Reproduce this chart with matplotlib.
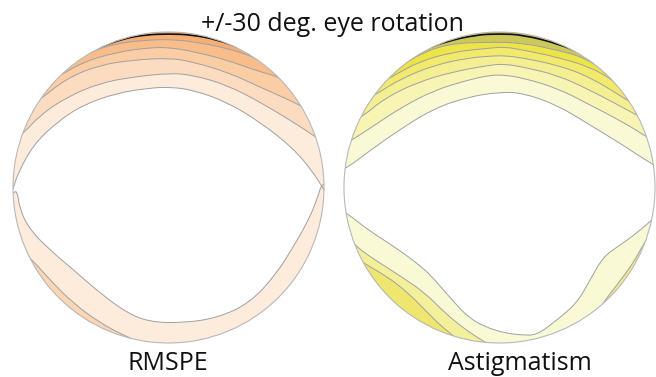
import numpy as np
import matplotlib.pyplot as plt
from matplotlib.patches import Circle, PathPatch
from matplotlib.path import Path

# Lens maps, coordinates normalised to the lens radius (u across, v up)

# RMSPE - upper contours, lightest to darkest
rms_a_u = [-1.05, -1.0, -0.974, -0.871, -0.717, -0.550, -0.331, -0.119, 0.010, 0.158, 0.376, 0.588, 0.801, 0.929, 1.0, 1.05]
rms_a_v = [-0.10, -0.016, 0.080, 0.273, 0.421, 0.531, 0.608, 0.640, 0.646, 0.627, 0.550, 0.421, 0.254, 0.100, -0.016, -0.10]
rms_b_u = [-1.05, -0.942, -0.826, -0.653, -0.441, -0.228, 0.010, 0.158, 0.376, 0.588, 0.801, 0.929, 1.05]
rms_b_v = [0.26, 0.338, 0.466, 0.582, 0.672, 0.711, 0.736, 0.723, 0.659, 0.550, 0.421, 0.338, 0.25]
rms_c_u = [-1.05, -0.846, -0.653, -0.441, -0.228, 0.010, 0.158, 0.376, 0.588, 0.846, 1.05]
rms_c_v = [0.42, 0.550, 0.704, 0.788, 0.820, 0.833, 0.807, 0.743, 0.646, 0.531, 0.42]
rms_d_u = [-1.05, -0.711, -0.550, -0.331, -0.119, 0.010, 0.158, 0.376, 0.588, 0.698, 1.05]
rms_d_v = [0.55, 0.711, 0.807, 0.871, 0.900, 0.900, 0.875, 0.820, 0.743, 0.717, 0.55]
rms_e_u = [-0.8, -0.524, -0.331, -0.119, 0.010, 0.158, 0.376, 0.569, 0.8]
rms_e_v = [0.70, 0.865, 0.929, 0.949, 0.952, 0.938, 0.897, 0.833, 0.70]
rms_f_u = [-0.45, -0.29, -0.15, 0.0, 0.15, 0.31, 0.45]
rms_f_v = [0.90, 0.957, 0.982, 0.988, 0.982, 0.951, 0.90]

# RMSPE - lower contours
rms_g_u = [-1.05, -1.0, -0.974, -0.955, -0.891, -0.762, -0.588, -0.441, -0.267, -0.119, 0.093, 0.312, 0.524, 0.698, 0.801, 0.891, 0.955, 0.987, 1.05]
rms_g_v = [-0.05, -0.04, -0.016, -0.145, -0.273, -0.402, -0.550, -0.678, -0.807, -0.865, -0.871, -0.839, -0.743, -0.550, -0.383, -0.228, -0.080, 0.035, 0.0]
rms_h_u = [-1.05, -0.904, -0.762, -0.614, -0.441, -0.267, -0.164, 0.0]
rms_h_v = [-0.35, -0.434, -0.595, -0.743, -0.871, -0.961, -1.0, -1.1]

# Astigmatism - upper contours
ast_a_u = [-1.05, -0.981, -0.846, -0.627, -0.415, -0.203, 0.0, 0.151, 0.370, 0.582, 0.794, 0.987, 1.05]
ast_a_v = [0.10, 0.125, 0.228, 0.383, 0.511, 0.582, 0.614, 0.608, 0.531, 0.402, 0.273, 0.145, 0.12]
ast_b_u = [-1.05, -0.949, -0.801, -0.627, -0.415, -0.203, -0.061, 0.035, 0.151, 0.370, 0.582, 0.794, 0.949, 1.05]
ast_b_v = [0.25, 0.305, 0.402, 0.518, 0.627, 0.691, 0.723, 0.723, 0.704, 0.640, 0.531, 0.421, 0.325, 0.26]
ast_c_u = [-1.05, -0.884, -0.736, -0.524, -0.305, -0.061, 0.035, 0.151, 0.370, 0.582, 0.884, 1.05]
ast_c_v = [0.36, 0.453, 0.576, 0.678, 0.743, 0.788, 0.794, 0.775, 0.723, 0.627, 0.466, 0.37]
ast_d_u = [-1.05, -0.801, -0.627, -0.415, -0.203, -0.061, 0.035, 0.151, 0.370, 0.582, 0.820, 1.05]
ast_d_v = [0.45, 0.595, 0.704, 0.788, 0.833, 0.845, 0.848, 0.833, 0.788, 0.711, 0.563, 0.42]
ast_e_u = [-0.9, -0.672, -0.524, -0.305, -0.061, 0.035, 0.151, 0.370, 0.582, 0.730, 0.9]
ast_e_v = [0.60, 0.723, 0.807, 0.871, 0.897, 0.904, 0.884, 0.839, 0.775, 0.691, 0.55]
ast_f_u = [-0.75, -0.563, -0.350, -0.061, 0.151, 0.370, 0.55, 0.75]
ast_f_v = [0.70, 0.833, 0.923, 0.936, 0.929, 0.884, 0.835, 0.70]
ast_k_u = [-0.5, -0.35, -0.15, 0.0, 0.15, 0.39, 0.55]
ast_k_v = [0.88, 0.937, 0.982, 0.988, 0.982, 0.921, 0.85]

# Astigmatism - lower contours
ast_g_u = [-1.05, -0.981, -0.846, -0.672, -0.498, -0.415, -0.305, -0.203, -0.093, 0.035, 0.145, 0.241, 0.370, 0.498, 0.582, 0.666, 0.756, 0.884, 1.0, 1.05]
ast_g_v = [-0.13, -0.164, -0.273, -0.383, -0.511, -0.595, -0.723, -0.833, -0.897, -0.936, -0.949, -0.949, -0.852, -0.743, -0.595, -0.447, -0.383, -0.293, -0.19, -0.16]
ast_h_u = [-1.05, -0.916, -0.801, -0.627, -0.479, -0.350, -0.241, -0.138, 0.0]
ast_h_v = [-0.25, -0.385, -0.466, -0.576, -0.678, -0.807, -0.897, -0.968, -1.05]
ast_i_u = [-1.0, -0.874, -0.717, -0.588, -0.479, -0.370, -0.286, -0.2]
ast_i_v = [-0.40, -0.486, -0.576, -0.678, -0.788, -0.897, -0.961, -1.05]
ast_j_u = [0.6, 0.666, 0.730, 0.794, 0.859, 0.923, 1.0]
ast_j_v = [-0.85, -0.743, -0.659, -0.576, -0.486, -0.370, -0.25]

title = '+/-30 deg. eye rotation'
panel_names = ['RMSPE', 'Astigmatism']

rms_upper = [(rms_a_u, rms_a_v), (rms_b_u, rms_b_v), (rms_c_u, rms_c_v),
             (rms_d_u, rms_d_v), (rms_e_u, rms_e_v), (rms_f_u, rms_f_v)]
rms_lower = [(rms_g_u, rms_g_v), (rms_h_u, rms_h_v)]
ast_upper = [(ast_a_u, ast_a_v), (ast_b_u, ast_b_v), (ast_c_u, ast_c_v),
             (ast_d_u, ast_d_v), (ast_e_u, ast_e_v), (ast_f_u, ast_f_v),
             (ast_k_u, ast_k_v)]
ast_lower = [(ast_g_u, ast_g_v), (ast_h_u, ast_h_v), (ast_i_u, ast_i_v),
             (ast_j_u, ast_j_v)]

rms_up_col = ['#fdebdc', '#fcdcc0', '#fbcda5', '#f9bd8b', '#f6ae74', '#f2a266']
rms_lo_col = ['#fdebdc', '#fbd6b5']
ast_up_col = ['#f9f9d6', '#f7f4b4', '#f4ef92', '#f1ea6c', '#ede448', '#cdc85c', '#b8b14a']
ast_lo_col = ['#f9f9d6', '#f4ef9a', '#efe670', '#f3ee90']
line_col = '#a0a0a0'

W, H = 656, 377
fig = plt.figure(figsize=(W / 100, H / 100), dpi=100)


def smooth(u, v):
    # quadratic Bezier through the midpoints of the polyline
    p = np.column_stack([u, v])
    mid = (p[:-1] + p[1:]) / 2
    verts = [p[0], mid[0]]
    codes = [Path.MOVETO, Path.LINETO]
    for i in range(1, len(p) - 1):
        verts += [p[i], mid[i]]
        codes += [Path.CURVE3, Path.CURVE3]
    verts.append(p[-1])
    codes.append(Path.LINETO)
    return verts, codes


def band(u, v, edge):
    verts, codes = smooth(u, v)
    verts += [(u[-1], edge), (u[0], edge), (u[0], v[0])]
    codes += [Path.LINETO, Path.LINETO, Path.CLOSEPOLY]
    return Path(verts, codes)


def lens(cx, cy, r, upper, up_col, lower, lo_col):
    lim = 1.02
    ax = fig.add_axes([(cx - lim * r) / W, (H - cy - lim * r) / H,
                       2 * lim * r / W, 2 * lim * r / H])
    ax.set_xlim(-lim, lim)
    ax.set_ylim(-lim, lim)
    ax.axis('off')
    clip = Circle((0, 0), 1, transform=ax.transData)
    arts = []
    for (u, v), c in zip(upper, up_col):
        arts.append(ax.add_patch(PathPatch(band(u, v, 1.2), fc=c, lw=0)))
    for (u, v), c in zip(lower, lo_col):
        arts.append(ax.add_patch(PathPatch(band(u, v, -1.2), fc=c, lw=0)))
    curves = upper + lower
    for i, (u, v) in enumerate(curves):
        top = i == len(upper) - 1
        verts, codes = smooth(u, v)
        arts.append(ax.add_patch(PathPatch(Path(verts, codes), fill=False,
                                           ec='#111111' if top else line_col,
                                           lw=1.2 if top else 0.7)))
    for a in arts:
        a.set_clip_path(clip)
    ax.add_patch(Circle((0, 0), 1, fill=False, ec='#b8b8b8', lw=0.8))
    return ax


lens(168.5, 187.5, 155.5, rms_upper, rms_up_col, rms_lower, rms_lo_col)
lens(499.5, 187.5, 155.5, ast_upper, ast_up_col, ast_lower, ast_lo_col)

font = 'Open Sans'
fig.text(332 / W, 1 - 31 / H, title, ha='center', va='baseline',
         fontsize=18, family=font, color='#111111')
fig.text(168 / W, 1 - 370 / H, panel_names[0], ha='center', va='baseline',
         fontsize=18, family=font, color='#111111')
fig.text(520 / W, 1 - 370 / H, panel_names[1], ha='center', va='baseline',
         fontsize=18, family=font, color='#111111')

fig.savefig('out.png', dpi=100, facecolor='white')
